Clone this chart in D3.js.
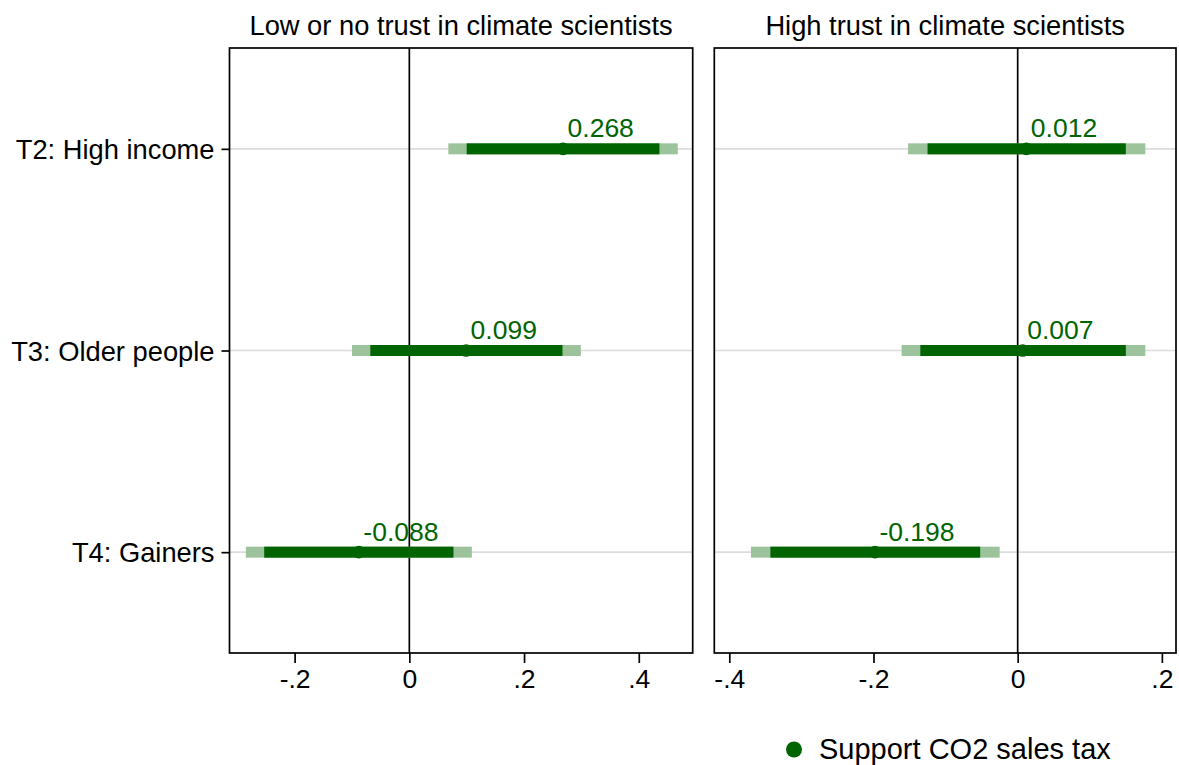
<!DOCTYPE html>
<html>
<head>
<meta charset="utf-8">
<script src="https://cdn.jsdelivr.net/npm/d3@7"></script>
<style>
  body { margin: 0; background: #fff; }
  text { font-family: "Liberation Sans", Arial, sans-serif; }
</style>
</head>
<body>
<div id="app"></div>
<script>
// categories and panels
const categories = ["T2: High income", "T3: Older people", "T4: Gainers"];
const panelTitles = ["Low or no trust in climate scientists", "High trust in climate scientists"];

// estimates + intervals, low trust panel
const estLow = [0.268, 0.099, -0.088];
const ci95Low = [[0.068, 0.468], [-0.100, 0.299], [-0.285, 0.109]];
const ci90Low = [[0.100, 0.436], [-0.068, 0.267], [-0.253, 0.077]];

// estimates + intervals, high trust panel
const estHigh = [0.012, 0.007, -0.198];
const ci95High = [[-0.152, 0.177], [-0.161, 0.177], [-0.370, -0.025]];
const ci90High = [[-0.125, 0.150], [-0.135, 0.150], [-0.343, -0.052]];

// axis ticks
const ticksLow = [-0.2, 0, 0.2, 0.4];
const ticksHigh = [-0.4, -0.2, 0, 0.2];
const legendLabel = "Support CO2 sales tax";

const dark = "#006400";
const light = "#9cc39c";
const fs = 26.5;

const W = 1179, H = 765;
const plotTop = 48, plotBottom = 653;

const panels = [
  { title: panelTitles[0], x0: 229.5, x1: 692.7, domain: [-0.3135, 0.494], est: estLow, ci95: ci95Low, ci90: ci90Low, ticks: ticksLow, yLabels: true },
  { title: panelTitles[1], x0: 714.3, x1: 1176, domain: [-0.4208, 0.2196], est: estHigh, ci95: ci95High, ci90: ci90High, ticks: ticksHigh, yLabels: false }
];

const svg = d3.select('#app')
  .append('svg')
    .attr('width', W)
    .attr('height', H);

const y = d3.scalePoint()
  .domain(categories)
  .range([plotTop, plotBottom])
  .padding(0.5);

const fmt = d => d === 0 ? "0" : String(d).replace("0.", ".");

panels.forEach(p => {
  const x = d3.scaleLinear().domain(p.domain).range([p.x0, p.x1]);
  const g = svg.append('g');

  // gridlines
  g.selectAll('line.grid')
    .data(categories)
    .join('line')
      .attr('class', 'grid')
      .attr('x1', p.x0).attr('x2', p.x1)
      .attr('y1', d => y(d)).attr('y2', d => y(d))
      .attr('stroke', '#dcdcdc')
      .attr('stroke-width', 1.6);

  // zero line
  g.append('line')
    .attr('x1', x(0)).attr('x2', x(0))
    .attr('y1', plotTop).attr('y2', plotBottom)
    .attr('stroke', '#000')
    .attr('stroke-width', 1.7);

  const rows = categories.map((c, i) => ({ c, est: p.est[i], ci95: p.ci95[i], ci90: p.ci90[i] }));

  // 95% bars
  g.selectAll('rect.ci95')
    .data(rows)
    .join('rect')
      .attr('class', 'ci95')
      .attr('x', d => x(d.ci95[0]))
      .attr('width', d => x(d.ci95[1]) - x(d.ci95[0]))
      .attr('y', d => y(d.c) - 5.5)
      .attr('height', 11)
      .attr('fill', light);

  // 90% bars
  g.selectAll('rect.ci90')
    .data(rows)
    .join('rect')
      .attr('class', 'ci90')
      .attr('x', d => x(d.ci90[0]))
      .attr('width', d => x(d.ci90[1]) - x(d.ci90[0]))
      .attr('y', d => y(d.c) - 5.5)
      .attr('height', 11)
      .attr('fill', dark);

  // points
  g.selectAll('circle.pt')
    .data(rows)
    .join('circle')
      .attr('class', 'pt')
      .attr('cx', d => x(d.est))
      .attr('cy', d => y(d.c))
      .attr('r', 6.3)
      .attr('fill', dark);

  // value labels
  g.selectAll('text.val')
    .data(rows)
    .join('text')
      .attr('class', 'val')
      .attr('x', d => x(d.est) + 4.5)
      .attr('y', d => y(d.c) - 11.5)
      .attr('font-size', fs)
      .attr('fill', dark)
      .text(d => d.est.toFixed(3));

  // frame
  g.append('rect')
    .attr('x', p.x0).attr('y', plotTop)
    .attr('width', p.x1 - p.x0).attr('height', plotBottom - plotTop)
    .attr('fill', 'none')
    .attr('stroke', '#000')
    .attr('stroke-width', 1.7);

  // x axis
  const xAxis = g.append('g')
    .attr('transform', `translate(0,${plotBottom})`)
    .call(d3.axisBottom(x).tickValues(p.ticks).tickFormat(fmt).tickSize(10).tickPadding(6));
  xAxis.select('.domain').remove();
  xAxis.selectAll('line').attr('stroke', '#000').attr('stroke-width', 1.7);
  xAxis.selectAll('text').attr('font-size', fs).attr('fill', '#000').attr('font-family', null);

  // y axis labels
  if (p.yLabels) {
    const yAxis = g.append('g')
      .attr('transform', `translate(${p.x0},0)`)
      .call(d3.axisLeft(y).tickSize(8).tickPadding(7));
    yAxis.select('.domain').remove();
    yAxis.selectAll('line').attr('stroke', '#000').attr('stroke-width', 1.7);
    yAxis.selectAll('text').attr('font-size', 27.3).attr('fill', '#000').attr('font-family', null)
      .attr('dy', '0.35em');
  }

  // title
  g.append('text')
    .attr('x', (p.x0 + p.x1) / 2)
    .attr('y', 34.5)
    .attr('text-anchor', 'middle')
    .attr('font-size', 27.3)
    .attr('fill', '#000')
    .text(p.title);
});

// legend
const leg = svg.append('g');
leg.append('circle').attr('cx', 794).attr('cy', 749.5).attr('r', 8).attr('fill', dark);
leg.append('text')
  .attr('x', 819)
  .attr('y', 759)
  .attr('font-size', 29)
  .attr('fill', '#000')
  .text(legendLabel);
</script>
</body>
</html>
